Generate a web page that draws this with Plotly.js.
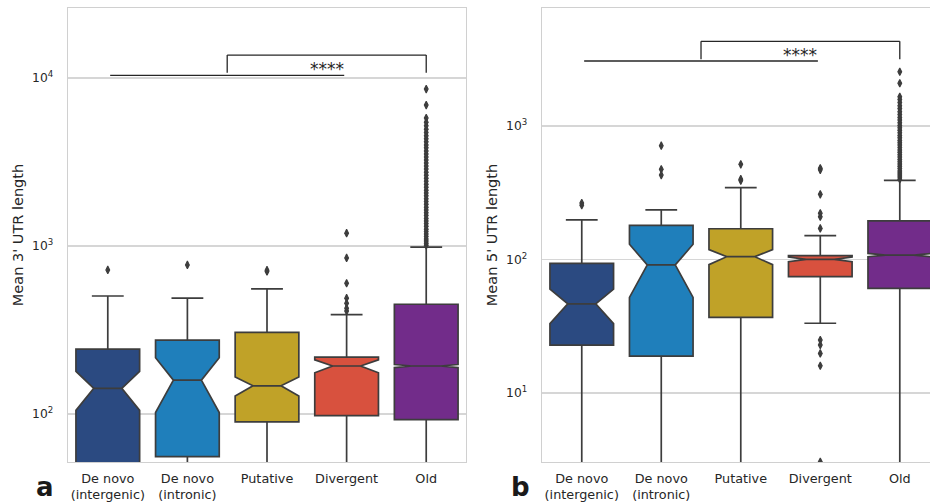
<!DOCTYPE html>
<html>
<head>
<meta charset="utf-8">
<script src="https://cdn.plot.ly/plotly-3.0.1.min.js"></script>
<style>
  html, body { margin: 0; padding: 0; background: #ffffff; }
  #chart { width: 930px; height: 504px; }
</style>
</head>
<body>
<div id="chart"></div>
<script>
// Gene age classes shown on both panels
const categories = ['De novo<br>(intergenic)', 'De novo<br>(intronic)', 'Putative', 'Divergent', 'Old'];
const boxColors = ['#2b4a81', '#1f7fbb', '#c0a228', '#d8513e', '#722c8a'];

// Panel a: mean 3' UTR length (box statistics per class)
const utr3LowerFence = [20, 20, 20, 20, 20];
const utr3Q1 = [48, 55.7, 89.6, 97.7, 92.5];
const utr3Median = [142, 159, 147, 193, 193];
const utr3Q3 = [243, 275, 306, 218, 450];
const utr3UpperFence = [504, 489, 555, 390, 986];
const utr3NotchSpan = [37, 57, 19, 17, 4];
const utr3Outliers = [
  [720],
  [771],
  [705, 718],
  [410, 426, 456, 489, 600, 849, 1192],
  [1010, 1040, 1070, 1100, 1140, 1180, 1220, 1260, 1310, 1360, 1410, 1460, 1520, 1580,
   1640, 1700, 1770, 1840, 1910, 1990, 2070, 2150, 2240, 2330, 2430, 2530, 2640, 2750,
   2870, 2990, 3120, 3250, 3390, 3530, 3680, 3840, 4000, 4170, 4350, 4540, 4740, 4950,
   5200, 5450, 5780, 6900, 8600]
];

// Panel b: mean 5' UTR length (box statistics per class)
const utr5LowerFence = [1, 1, 1, 33.3, 1];
const utr5Q1 = [22.8, 18.9, 36.9, 74.3, 60.8];
const utr5Median = [46.5, 91, 105, 100.3, 108];
const utr5Q3 = [93.5, 180, 170, 107, 195];
const utr5UpperFence = [198, 235, 345, 151, 392];
const utr5NotchSpan = [13.4, 39, 13.5, 4, 3];
const utr5Outliers = [
  [255, 265],
  [429, 474, 712],
  [390, 400, 516],
  [3.05, 16.0, 19.8, 22.9, 24.9, 171, 209, 222, 308, 470, 482],
  [400, 415, 430, 445, 460, 480, 500, 520, 540, 560, 585, 610, 635, 660, 690, 720,
   750, 780, 815, 850, 890, 930, 970, 1010, 1060, 1110, 1160, 1220, 1280, 1350,
   1420, 1500, 1580, 1656, 2090, 2550]
];

// Log-axis tick labels
const utr3TickVals = [100, 1000, 10000];
const utr3TickText = ['10<sup>2</sup>', '10<sup>3</sup>', '10<sup>4</sup>'];
const utr5TickVals = [10, 100, 1000];
const utr5TickText = ['10<sup>1</sup>', '10<sup>2</sup>', '10<sup>3</sup>'];

// Significance brackets: [from, to, level] and the bracket's lower tick end
const utr3Comparisons = { line: [0.03, 2.97, 10380], bracket: [1.5, 4, 13700, 10770] };
const utr5Comparisons = { line: [0.03, 2.97, 3070], bracket: [1.5, 4, 4306, 3160] };
const significanceLabel = '****';

const edgeColor = '#3d3d3d';
const frameColor = '#d0d0d0';
const textColor = '#262626';

function panelTraces(xa, ya, lower, q1, med, q3, upper, notch, outliers) {
  const traces = [];
  categories.forEach((cat, i) => {
    traces.push({
      type: 'box',
      xaxis: xa, yaxis: ya,
      x: [cat],
      q1: [q1[i]], median: [med[i]], q3: [q3[i]],
      lowerfence: [lower[i]], upperfence: [upper[i]],
      notchspan: [notch[i]],
      notched: true,
      notchwidth: 0.28,
      width: 0.8,
      whiskerwidth: 0.5,
      boxpoints: false,
      fillcolor: boxColors[i],
      line: { color: edgeColor, width: 1.7 },
      hoverinfo: 'skip',
      showlegend: false
    });
  });
  categories.forEach((cat, i) => {
    traces.push({
      type: 'scatter',
      mode: 'markers',
      xaxis: xa, yaxis: ya,
      x: outliers[i].map(() => cat),
      y: outliers[i],
      marker: { symbol: 'diamond-tall', size: 5.5, color: edgeColor,
                line: { color: edgeColor, width: 1.1 } },
      cliponaxis: true,
      hoverinfo: 'y',
      showlegend: false
    });
  });
  return traces;
}

const data = [].concat(
  panelTraces('x', 'y', utr3LowerFence, utr3Q1, utr3Median, utr3Q3, utr3UpperFence, utr3NotchSpan, utr3Outliers),
  panelTraces('x2', 'y2', utr5LowerFence, utr5Q1, utr5Median, utr5Q3, utr5UpperFence, utr5NotchSpan, utr5Outliers)
);

function bracketShapes(xref, yref, comp) {
  const ls = { color: textColor, width: 1.3 };
  const [l0, l1, ly] = comp.line;
  const [b0, b1, top, foot] = comp.bracket;
  return [
    { type: 'line', xref, yref, x0: l0, x1: l1, y0: ly, y1: ly, line: ls },
    { type: 'line', xref, yref, x0: b0, x1: b0, y0: foot, y1: top, line: ls },
    { type: 'line', xref, yref, x0: b0, x1: b1, y0: top, y1: top, line: ls },
    { type: 'line', xref, yref, x0: b1, x1: b1, y0: top, y1: foot, line: ls }
  ];
}

function starLabel(xref, yref, comp) {
  const [b0, b1, top] = comp.bracket;
  return {
    xref, yref, x: (b0 + b1) / 2, y: Math.log10(top),
    yanchor: 'top', xanchor: 'center', yshift: -2,
    text: significanceLabel, showarrow: false,
    font: { size: 17, color: textColor }
  };
}

const xBase = {
  type: 'category',
  categoryorder: 'array',
  categoryarray: categories,
  showgrid: false,
  zeroline: false,
  showline: true,
  mirror: true,
  linecolor: frameColor,
  linewidth: 1.3,
  ticks: '',
  ticklabelstandoff: 4,
  tickfont: { size: 12.8, color: textColor },
  fixedrange: true
};

const yBase = {
  type: 'log',
  showgrid: true,
  gridcolor: '#d6d6d6',
  gridwidth: 1.1,
  zeroline: false,
  showline: true,
  linecolor: frameColor,
  linewidth: 1.3,
  ticks: '',
  ticklabelstandoff: 11,
  tickfont: { size: 12.3, color: textColor },
  fixedrange: true
};

const layout = {
  width: 930,
  height: 504,
  margin: { l: 0, r: 0, t: 8, b: 42 },
  paper_bgcolor: '#ffffff',
  plot_bgcolor: '#ffffff',
  font: { family: 'DejaVu Sans, sans-serif', color: textColor, size: 12 },
  showlegend: false,
  xaxis: Object.assign({}, xBase, { domain: [0.0731, 0.5011], range: [-0.5, 4.5], anchor: 'y' }),
  yaxis: Object.assign({}, yBase, {
    domain: [0, 1], anchor: 'x', mirror: true,
    range: [1.714, 4.417],
    tickvals: utr3TickVals, ticktext: utr3TickText,
    title: { text: "Mean 3' UTR length", font: { size: 14.5, color: textColor }, standoff: 5 }
  }),
  xaxis2: Object.assign({}, xBase, { domain: [0.5828, 1], range: [-0.5, 4.38], anchor: 'y2' }),
  yaxis2: Object.assign({}, yBase, {
    domain: [0, 1], anchor: 'x2', mirror: false,
    range: [0.483, 3.884],
    tickvals: utr5TickVals, ticktext: utr5TickText,
    title: { text: "Mean 5' UTR length", font: { size: 14.5, color: textColor }, standoff: 5 }
  }),
  shapes: [].concat(bracketShapes('x', 'y', utr3Comparisons), bracketShapes('x2', 'y2', utr5Comparisons)),
  annotations: [
    starLabel('x', 'y', utr3Comparisons),
    starLabel('x2', 'y2', utr5Comparisons),
    { xref: 'paper', yref: 'paper', x: 0.0484, y: -0.0925, xanchor: 'center', yanchor: 'bottom',
      text: '<b>a</b>', showarrow: false, font: { size: 26, color: '#1a1a1a', weight: 'bold' } },
    { xref: 'paper', yref: 'paper', x: 0.5602, y: -0.0925, xanchor: 'center', yanchor: 'bottom',
      text: '<b>b</b>', showarrow: false, font: { size: 26, color: '#1a1a1a', weight: 'bold' } }
  ]
};

Plotly.newPlot('chart', data, layout, { displayModeBar: false, staticPlot: true });
</script>
</body>
</html>
